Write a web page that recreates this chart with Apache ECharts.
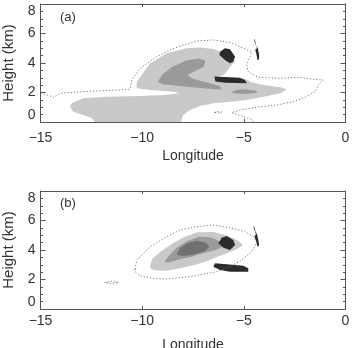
<!DOCTYPE html>
<html><head><meta charset="utf-8">
<script src="https://cdn.jsdelivr.net/npm/echarts@6/dist/echarts.min.js"></script>
<style>html,body{margin:0;padding:0;background:#fff}#c{width:355px;height:348px}</style>
</head><body><div id="c"></div>
<script>
// ---- axes ----
const xTicks = [-15, -10, -5, 0];
const yTicks = [0, 2, 4, 6, 8];
const panelLabels = ['(a)', '(b)'];
const xTitle = 'Longitude';
const yTitle = 'Height (km)';

// ---- panel (a) contours: [longitude, height km] ----
const aDotted = [[-15.0,1.95],[-14.6,1.8],[-14.37,1.67],[-14.2,1.8],[-13.96,1.95],[-13.0,2.05],[-12.0,2.12],[-11.0,2.18],[-10.6,2.22],[-10.51,2.85],[-10.1,3.64],[-9.29,4.43],[-8.6,4.9],[-7.98,5.22],[-7.32,5.5],[-6.5,5.56],[-5.68,5.38],[-5.03,5.0],[-4.61,4.77],[-4.70,4.43],[-4.86,3.86],[-4.78,3.41],[-4.29,3.03],[-3.2,2.96],[-2.24,3.03],[-1.58,2.89],[-1.09,2.85],[-1.34,2.51],[-1.50,2.05],[-1.91,1.72],[-2.57,1.38],[-3.38,1.15],[-4.37,1.0],[-5.19,0.81],[-5.60,0.63],[-5.10,0.41],[-4.61,0.18],[-4.53,0.0]];
const aDottedSmall = [[-6.45,0.65],[-6.3,0.72],[-6.1,0.66],[-6.3,0.6],[-6.45,0.65]];
const aLight = [[-12.32,0],[-12.48,0.25],[-12.9,0.47],[-13.39,0.70],[-13.55,1.04],[-13.47,1.27],[-12.9,1.61],[-11.74,1.72],[-10.1,1.76],[-8.96,1.83],[-8.14,1.95],[-8.47,2.05],[-9.61,2.17],[-10.27,2.28],[-10.27,2.73],[-10.02,3.19],[-9.61,3.98],[-8.79,4.66],[-7.81,5.0],[-7.16,5.05],[-6.5,4.95],[-6.2,4.8],[-5.6,4.5],[-5.43,4.09],[-5.68,3.75],[-5.84,3.41],[-6.01,3.19],[-6.3,3.05],[-5.0,2.95],[-4.8,2.85],[-4.7,2.73],[-4.04,2.51],[-3.2,2.35],[-2.89,2.22],[-3.2,1.95],[-4.04,1.72],[-4.86,1.49],[-5.68,1.38],[-6.5,1.27],[-7.16,1.08],[-7.65,0.81],[-7.98,0.47],[-8.1,0]];
const aMid = [[-9.24,2.72],[-9.0,3.24],[-8.51,3.74],[-7.87,4.15],[-7.22,4.31],[-6.89,4.15],[-6.97,3.74],[-7.38,3.47],[-7.78,3.17],[-7.54,2.95],[-6.73,2.65],[-6.16,2.43],[-6.08,2.2],[-6.89,2.27],[-8.03,2.43],[-9.0,2.56]];
const aMidSmall = [[-5.6,2.05],[-5.3,2.18],[-4.9,2.22],[-4.4,2.12],[-4.3,2.02],[-4.6,1.93],[-5.1,1.9],[-5.5,1.95]];
const aBlob = [[-6.17,4.77],[-5.93,5.0],[-5.68,4.93],[-5.43,4.43],[-5.52,4.09],[-5.68,3.98],[-5.93,4.2],[-6.2,4.54]];
const aBar = [[-6.45,3.08],[-5.2,3.0],[-4.95,2.85],[-4.85,2.62],[-5.9,2.66],[-6.4,2.74]];
const aZig = [[-4.5,5.6],[-4.44,5.3],[-4.34,5.02],[-4.44,4.9],[-4.38,4.6],[-4.33,4.2],[-4.25,4.25],[-4.25,4.6],[-4.3,4.9],[-4.3,5.0],[-4.4,5.2],[-4.46,5.6]];

// ---- panel (b) contours ----
const bDotted = [[-10.35,2.7],[-10.27,3.32],[-9.9,3.8],[-9.61,4.22],[-8.79,4.9],[-8.14,5.36],[-7.32,5.58],[-6.5,5.69],[-5.68,5.51],[-4.94,5.24],[-4.53,4.9],[-4.37,4.56],[-4.45,4.22],[-4.7,3.78],[-5.19,3.25],[-5.68,2.87],[-6.33,2.53],[-6.99,2.37],[-7.65,2.19],[-8.14,2.12],[-8.79,2.03],[-9.45,2.08],[-10.1,2.24],[-10.27,2.42],[-10.35,2.53],[-10.35,2.7]];
const bDottedSmall = [[-11.85,1.8],[-11.5,1.87],[-11.15,1.8],[-11.5,1.74],[-11.85,1.8]];
const bLight = [[-9.6,2.95],[-9.5,3.4],[-9.1,3.88],[-8.5,4.45],[-7.9,4.9],[-7.3,5.2],[-6.5,5.22],[-6.0,5.05],[-5.6,4.85],[-5.3,4.65],[-5.05,4.35],[-5.3,4.08],[-5.8,3.8],[-6.3,3.55],[-6.8,3.25],[-7.3,3.03],[-7.8,2.87],[-8.2,2.75],[-8.8,2.6],[-9.4,2.62],[-9.6,2.75]];
const bMid = [[-8.9,3.2],[-8.7,3.6],[-8.3,4.15],[-7.8,4.6],[-7.2,4.9],[-6.6,4.85],[-6.2,4.6],[-5.95,4.25],[-6.4,4.0],[-7.0,3.78],[-7.6,3.55],[-8.2,3.35],[-8.7,3.15]];
const bDark = [[-8.3,3.7],[-8.15,4.1],[-7.8,4.45],[-7.3,4.62],[-6.85,4.5],[-6.7,4.2],[-6.95,3.9],[-7.5,3.68],[-8.0,3.6]];
const bBlob = [[-6.09,4.83],[-5.84,4.95],[-5.52,4.68],[-5.43,4.34],[-5.68,4.0],[-6.0,4.16],[-6.25,4.45]];
const bBar = [[-6.42,3.1],[-5.84,3.03],[-5.03,2.94],[-4.78,2.76],[-4.78,2.53],[-5.68,2.53],[-6.17,2.64],[-6.5,2.87]];
const bZig = [[-4.53,5.6],[-4.47,5.3],[-4.4,5.05],[-4.48,4.95],[-4.4,4.6],[-4.32,4.22],[-4.25,4.3],[-4.28,4.65],[-4.33,4.95],[-4.35,5.05],[-4.43,5.25],[-4.49,5.6]];

const FONT = "'Liberation Sans', Arial, sans-serif";
const TXT = '#333';
const AX = '#555';
const C_LIGHT = '#c9c9c9', C_MID = '#9a9a9a', C_DARK = '#707070', C_BLACK = '#2b2b2b', C_DOT = '#777';

const chart = echarts.init(document.getElementById('c'), null, {renderer: 'canvas'});

const grids = [
  {left: 40.5, top: 4, width: 305, height: 118, containLabel: false, outerBoundsMode: 'none'},
  {left: 40.5, top: 191, width: 305, height: 118, containLabel: false, outerBoundsMode: 'none'}
];
const labelMargins = [9, 5];
const nameGaps = [27, 29];

const xAxes = [], yAxes = [];
grids.forEach((g, i) => {
  const xb = {
    type: 'value', gridIndex: i, min: xTicks[0], max: xTicks[xTicks.length-1], interval: 5,
    position: 'bottom',
    axisLine: {show: true, onZero: false, lineStyle: {color: AX, width: 1}},
    axisTick: {show: true, inside: true, length: 3, lineStyle: {color: AX}},
    axisLabel: {show: true, margin: labelMargins[i], fontSize: 14, fontFamily: FONT, color: TXT,
      formatter: v => v < 0 ? '\u2212' + Math.abs(v) : String(v)},
    splitLine: {show: false},
    name: xTitle, nameLocation: 'middle', nameGap: nameGaps[i],
    nameTextStyle: {fontSize: 14, fontFamily: FONT, color: TXT}
  };
  const xt = {
    type: 'value', gridIndex: i, min: xTicks[0], max: xTicks[xTicks.length-1], interval: 5,
    position: 'top',
    axisLine: {show: true, onZero: false, lineStyle: {color: AX, width: 1}},
    axisTick: {show: true, inside: true, length: 3, lineStyle: {color: AX}},
    axisLabel: {show: false}, splitLine: {show: false}
  };
  xAxes.push(xb, xt);
  const yl = {
    type: 'value', gridIndex: i, min: yTicks[0], max: yTicks[yTicks.length-1], interval: 2,
    position: 'left',
    axisLine: {show: true, onZero: false, lineStyle: {color: AX, width: 1}},
    axisTick: {show: true, inside: true, length: 5, lineStyle: {color: AX}},
    minorTick: {show: true, splitNumber: 4, length: 2.5, lineStyle: {color: AX}},
    axisLabel: {show: true, margin: 5, fontSize: 14, fontFamily: FONT, color: TXT,
      verticalAlignMinLabel: 'bottom', verticalAlignMaxLabel: 'top'},
    splitLine: {show: false}, minorSplitLine: {show: false},
    name: yTitle, nameLocation: 'middle', nameGap: 24, nameRotate: 90,
    nameTextStyle: {fontSize: 15, fontFamily: FONT, color: TXT}
  };
  const yr = {
    type: 'value', gridIndex: i, min: yTicks[0], max: yTicks[yTicks.length-1], interval: 2,
    position: 'right',
    axisLine: {show: true, onZero: false, lineStyle: {color: AX, width: 1}},
    axisTick: {show: true, inside: true, length: 5, lineStyle: {color: AX}},
    minorTick: {show: true, splitNumber: 4, length: 2.5, lineStyle: {color: AX}},
    axisLabel: {show: false}, splitLine: {show: false}, minorSplitLine: {show: false}
  };
  yAxes.push(yl, yr);
});

function shape(panel, pts, fill, dotted) {
  return {
    type: 'custom', xAxisIndex: panel * 2, yAxisIndex: panel * 2, clip: true,
    silent: true, animation: false,
    data: pts,
    renderItem: function (params, api) {
      if (params.dataIndex !== 0) return null;
      const p = pts.map(d => api.coord(d));
      if (dotted) {
        return {type: 'polyline', shape: {points: p},
          style: {fill: null, stroke: C_DOT, lineWidth: 1, lineDash: [1.2, 2]}};
      }
      return {type: 'polygon', shape: {points: p}, style: {fill: fill, stroke: null}};
    }
  };
}

const series = [
  shape(0, aLight, C_LIGHT), shape(0, aMid, C_MID), shape(0, aMidSmall, C_MID),
  shape(0, aBlob, C_BLACK), shape(0, aBar, C_BLACK), shape(0, aZig, C_BLACK),
  shape(0, aDotted, null, true), shape(0, aDottedSmall, null, true),
  shape(1, bLight, C_LIGHT), shape(1, bMid, C_MID), shape(1, bDark, C_DARK),
  shape(1, bBlob, C_BLACK), shape(1, bBar, C_BLACK), shape(1, bZig, C_BLACK),
  shape(1, bDotted, null, true), shape(1, bDottedSmall, null, true)
];

chart.setOption({
  animation: false,
  backgroundColor: '#fff',
  grid: grids,
  xAxis: xAxes,
  yAxis: yAxes,
  series: series,
  graphic: [
    {type: 'text', left: 60, top: 11, style: {text: panelLabels[0], font: '13px ' + FONT, fill: TXT}},
    {type: 'text', left: 60, top: 197, style: {text: panelLabels[1], font: '13px ' + FONT, fill: TXT}}
  ]
});
</script></body></html>
